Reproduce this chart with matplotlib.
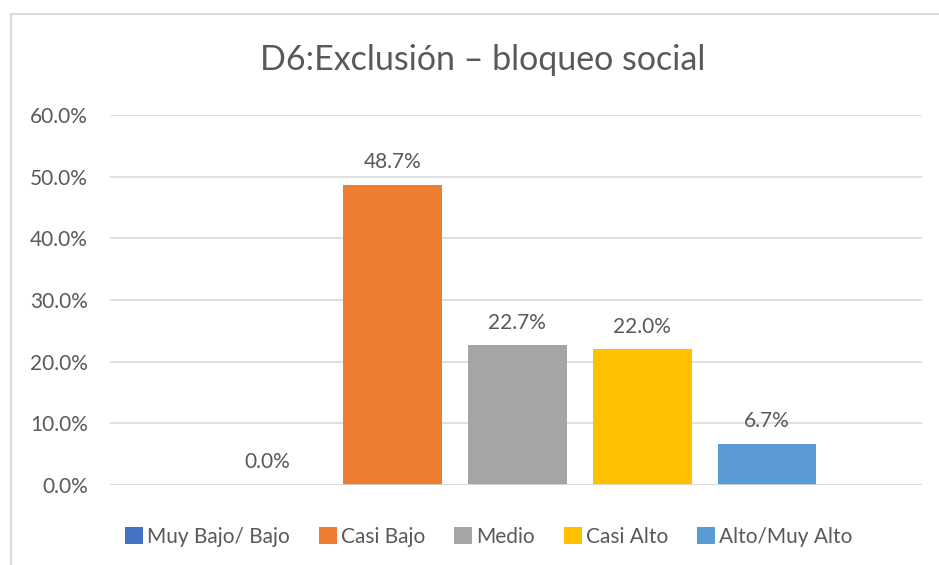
import matplotlib.pyplot as plt
from matplotlib.patches import Rectangle

# Data
categories = ["Muy Bajo/ Bajo", "Casi Bajo", "Medio", "Casi Alto", "Alto/Muy Alto"]
values = [0.0, 48.7, 22.7, 22.0, 6.7]
colors = ["#4472C4", "#ED7D31", "#A5A5A5", "#FFC000", "#5B9BD5"]
yticks = [0, 10, 20, 30, 40, 50, 60]

text_color = "#595959"
plt.rcParams['font.family'] = ['Lato', 'DejaVu Sans']

fig = plt.figure(figsize=(9.39, 5.65), dpi=100)
ax = fig.add_axes([110 / 939, 1 - 485 / 565, 812 / 939, 370 / 565])

# chart border like excel
fig.patches.append(Rectangle((11 / 939, -0.1), 1.2, 1 - 14 / 565 + 0.1,
                             transform=fig.transFigure, fill=False,
                             edgecolor="#D9D9D9", linewidth=1.5))

x = list(range(len(categories)))
bars = ax.bar(x, values, width=0.79, color=colors, label=categories, zorder=3)

for xi, v in zip(x, values):
    ax.annotate(f"{v:.1f}%", (xi, v), xytext=(0, 9), textcoords="offset points",
                ha="center", va="bottom", fontsize=15, color=text_color)

ax.set_xlim(-1.26, 5.24)
ax.set_ylim(0, 60)
ax.set_yticks(yticks)
ax.set_yticklabels([f"{t:.1f}%" for t in yticks], fontsize=15, color=text_color)
ax.set_xticks([])
ax.tick_params(axis="y", length=0, pad=16)
ax.yaxis.grid(True, color="#D9D9D9", linewidth=1.2, zorder=0)
for s in ax.spines.values():
    s.set_visible(False)
ax.axhline(0, color="#D9D9D9", linewidth=1.2, zorder=4)

fig.text(483 / 939, 1 - 60 / 565, "D6:Exclusión – bloqueo social", ha="center",
         va="center", fontsize=24.5, color=text_color)

fig.legend(handles=bars, labels=categories, loc="center", ncol=5,
           bbox_to_anchor=(489 / 939, 1 - 537 / 565), frameon=False,
           fontsize=15, labelcolor=text_color, handlelength=0.85,
           handleheight=0.85, handletextpad=0.2, columnspacing=1.4)

fig.savefig("out.png", dpi=100)
